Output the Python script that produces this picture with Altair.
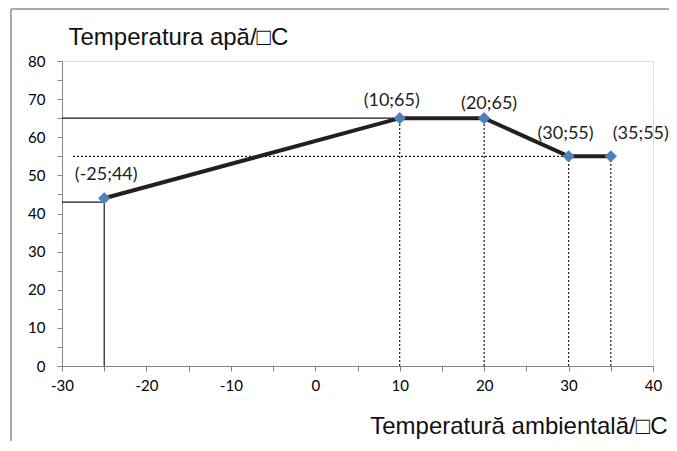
import altair as alt
import pandas as pd

# main curve
curve_x = [-25, 10, 20, 30, 35]
curve_y = [44, 65, 65, 55, 55]
point_labels = ["(-25;44)", "(10;65)", "(20;65)", "(30;55)", "(35;55)"]

# guide segments
seg_x1 = [-30, -28.7, -30, -25, 10, 20, 30, 35]
seg_x2 = [10, 30, -25, -25, 10, 20, 30, 35]
seg_y1 = [65, 55, 43, 0, 0, 0, 0, 0]
seg_y2 = [65, 55, 43, 44, 65, 65, 55, 55]
seg_kind = ["solid", "dotted", "solid", "solid", "dotted", "dotted", "dotted", "dotted"]

x_ticks = list(range(-30, 45, 5))
y_ticks = list(range(0, 85, 5))

df = pd.DataFrame({"x": curve_x, "y": curve_y, "label": point_labels})
seg = pd.DataFrame({"x1": seg_x1, "x2": seg_x2, "y1": seg_y1, "y2": seg_y2, "kind": seg_kind})

xs = alt.Scale(domain=[-30, 40], nice=False, zero=False)
ys = alt.Scale(domain=[0, 80], nice=False)

lbl = "datum.value % 10 === 0 ? toString(datum.value) : ''"

x_axis = alt.Axis(values=x_ticks, labelExpr=lbl, grid=False, tickSize=5,
                  labelOverlap=False, labelFlush=False,
                  labelFont="Lato", labelFontSize=15, labelColor="#000", labelPadding=7,
                  domainColor="#868686", tickColor="#868686",
                  title="Temperatură ambientală/□C", titleFont="Liberation Sans",
                  titleFontSize=24, titleFontWeight="normal", titleColor="#111",
                  titleAnchor="end", titleAlign="right", titleBaseline="alphabetic",
                  titleX=605, titleY=67)
y_axis = alt.Axis(values=y_ticks, labelExpr=lbl, grid=False, tickSize=5,
                  labelOverlap=False, labelFlush=False, labelBound=False,
                  labelFont="Lato", labelFontSize=15, labelColor="#000", labelPadding=12,
                  domainColor="#868686", tickColor="#868686",
                  title="Temperatura apă/□C", titleFont="Liberation Sans",
                  titleFontSize=24, titleFontWeight="normal", titleColor="#111",
                  titleAngle=0, titleAlign="left", titleBaseline="alphabetic",
                  titleX=6, titleY=-17)

frame_top = alt.Chart(df).mark_rule(stroke="#a6a6a6", strokeWidth=1).encode(
    x=alt.value(-51), x2=alt.value(620), y=alt.value(-52))
frame_left = alt.Chart(df).mark_rule(stroke="#a6a6a6", strokeWidth=1).encode(
    x=alt.value(-51), y=alt.value(-52), y2=alt.value(600))

base_seg = alt.Chart(seg).encode(
    x=alt.X("x1:Q", scale=xs, axis=x_axis), x2="x2:Q",
    y=alt.Y("y1:Q", scale=ys, axis=y_axis), y2="y2:Q")
solid = base_seg.transform_filter("datum.kind == 'solid'").mark_rule(color="#1a1a1a", strokeWidth=1.2)
dotted = base_seg.transform_filter("datum.kind == 'dotted'").mark_rule(
    color="#1a1a1a", strokeWidth=1.2, strokeDash=[2, 2])

line = alt.Chart(df).mark_line(color="#231f20", strokeWidth=4).encode(
    x=alt.X("x:Q", scale=xs, axis=x_axis), y=alt.Y("y:Q", scale=ys, axis=y_axis))
pts = alt.Chart(df).mark_point(shape="diamond", filled=True, color="#4f81bd",
                               size=150, opacity=1).encode(
    x=alt.X("x:Q", scale=xs, axis=x_axis), y=alt.Y("y:Q", scale=ys, axis=y_axis))

offsets = {"(-25;44)": (2, -23), "(10;65)": (-8, -17), "(20;65)": (5, -14),
           "(30;55)": (-3, -22), "(35;55)": (30, -22)}
texts = []
for lab in point_labels:
    dx, dy = offsets[lab]
    texts.append(alt.Chart(df).transform_filter(alt.datum.label == lab).mark_text(
        font="Lato", fontSize=18, color="#222", dx=dx, dy=dy).encode(
        x=alt.X("x:Q", scale=xs, axis=x_axis), y=alt.Y("y:Q", scale=ys, axis=y_axis),
        text="label:N"))

chart = alt.layer(frame_top, frame_left, solid, dotted, line, pts, *texts).properties(
    width=591, height=305,
    autosize=alt.AutoSizeParams(type="none"),
    padding={"left": 54, "top": 53, "right": 16, "bottom": 75},
).configure_view(stroke=None).configure_axis(labelOverlap=False).configure(background="white")

chart.save("out.html", embed_options={"renderer": "svg", "actions": False})
